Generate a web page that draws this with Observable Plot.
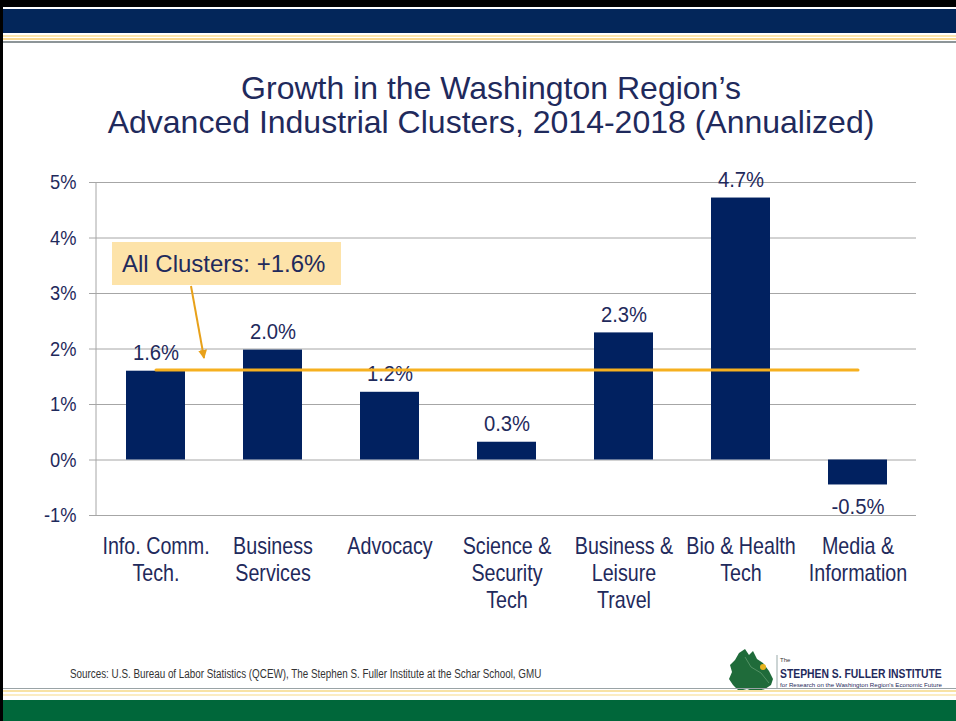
<!DOCTYPE html>
<html><head><meta charset="utf-8">
<script src="https://cdn.jsdelivr.net/npm/d3@7"></script>
<script src="https://cdn.jsdelivr.net/npm/@observablehq/plot@0.6"></script>
<style>
body{margin:0;background:#fff;}
#page{position:relative;width:956px;height:721px;overflow:hidden;background:#fff;font-family:"Liberation Sans",Arial,sans-serif;}
.abs{position:absolute;}
#title{left:26px;width:930px;top:71px;text-align:center;font-size:32px;line-height:34px;color:#1f2a5c;}
#callout{left:112px;top:242px;width:229px;height:43px;background:#fde3a9;color:#1f2a5c;font-size:24px;line-height:43px;padding-left:10px;box-sizing:border-box;white-space:nowrap;}
#src{left:70px;top:667px;font-size:12px;color:#333;white-space:nowrap;transform:scaleX(0.82);transform-origin:0 0;}
#chart{left:0;top:160px;}
</style></head>
<body>
<div id="page">
  <div class="abs" style="left:0;top:0;width:956px;height:7px;background:#000"></div>
  <div class="abs" style="left:0;top:0;width:3px;height:721px;background:#000;z-index:5"></div>
  <div class="abs" style="left:3px;top:9px;width:953px;height:24px;background:#03265a"></div>
  <div class="abs" style="left:3px;top:35px;width:953px;height:2px;background:#fbe6b0"></div>
  <div class="abs" style="left:3px;top:38px;width:953px;height:2px;background:#f7d890"></div>
  <div class="abs" style="left:3px;top:41px;width:953px;height:2px;background:#8d9598"></div>
  <div class="abs" id="title">Growth in the Washington Region’s<br>Advanced Industrial Clusters, 2014-2018 (Annualized)</div>
  <div class="abs" id="chart"></div>
  <div class="abs" id="callout">All Clusters: +1.6%</div>
  <svg class="abs" style="left:0;top:0" width="956" height="721" pointer-events="none">
    <defs><marker id="ah" viewBox="0 0 10 10" refX="9" refY="5" markerWidth="4.5" markerHeight="4.5" orient="auto"><path d="M0,0L10,5L0,10z" fill="#e8a11a"/></marker></defs>
    <line x1="191" y1="286" x2="204" y2="358" stroke="#e8a11a" stroke-width="2" marker-end="url(#ah)"/>
  </svg>
  <div class="abs" id="src">Sources: U.S. Bureau of Labor Statistics (QCEW), The Stephen S. Fuller Institute at the Schar School, GMU</div>
  <svg class="abs" id="logo" style="left:725px;top:645px" width="231" height="50">
    <path d="M14,8 L20,4 L24,10 L28,6 L32,14 L38,18 L44,26 L48,34 L46,40 L40,44 L30,47 L22,44 L14,46 L8,40 L4,34 L7,27 L5,20 L10,15 Z" fill="#1f6b3a"/>
    <path d="M20,12 L26,22 L36,28 L44,38" stroke="#5f9a6e" stroke-width="0.8" fill="none"/>
    <circle cx="38" cy="22" r="3" fill="#e6b31e"/>
    <line x1="52" y1="10" x2="52" y2="44" stroke="#9aa" stroke-width="1"/>
    <text x="55" y="17" font-size="6" fill="#333" font-family="Liberation Sans, sans-serif">The</text>
    <g transform="translate(55,33)"><text class="fit" x="0" y="0" font-size="12" font-weight="bold" fill="#1f2a5c" font-family="Liberation Sans, sans-serif">STEPHEN S. FULLER INSTITUTE</text></g>
    <g transform="translate(55,42)"><text class="fit" x="0" y="0" font-size="6" fill="#1f2a5c" font-family="Liberation Sans, sans-serif">for Research on the Washington Region's Economic Future</text></g>
  </svg>
  <div class="abs" style="left:3px;top:688px;width:953px;height:1px;background:#9aa3a6"></div>
  <div class="abs" style="left:3px;top:690px;width:953px;height:2px;background:#f8e2a4"></div>
  <div class="abs" style="left:3px;top:694px;width:953px;height:2px;background:#fbecc2"></div>
  <div class="abs" style="left:3px;top:700px;width:953px;height:21px;background:#00673a"></div>
</div>
<script>
const categories = ["Info. Comm.\nTech.", "Business\nServices", "Advocacy", "Science &\nSecurity\nTech", "Business &\nLeisure\nTravel", "Bio & Health\nTech", "Media &\nInformation"];
const growth = [1.6, 1.98, 1.22, 0.32, 2.29, 4.72, -0.45];
const growthLabels = ["1.6%", "2.0%", "1.2%", "0.3%", "2.3%", "4.7%", "-0.5%"];
const allClusters = 1.62;
const yTicks = [-1, 0, 1, 2, 3, 4, 5];

const navy = "#1f2a5c";
const barColor = "#012160";
const grid = "#a6a6a6";
const data = categories.map((c, i) => ({cat: c, val: growth[i], label: growthLabels[i]}));
const avgLine = [{cat: categories[0], val: allClusters}, {cat: categories[categories.length - 1], val: allClusters}];

const yAxisLine = (index, scales, values, dim) => {
  const l = d3.create("svg:line")
    .attr("x1", dim.marginLeft).attr("x2", dim.marginLeft)
    .attr("y1", dim.marginTop).attr("y2", dim.height - dim.marginBottom)
    .attr("stroke", grid).attr("stroke-width", 1);
  return l.node();
};

const chart = Plot.plot({
  width: 956,
  height: 460,
  marginLeft: 96,
  marginRight: 40,
  marginTop: 22,
  marginBottom: 105,
  style: {fontFamily: '"Liberation Sans",Arial,sans-serif', fontSize: "21px", color: navy, background: "transparent", overflow: "visible"},
  x: {domain: categories, paddingInner: 0.5, paddingOuter: 0.25, axis: null},
  y: {domain: [-1, 5], axis: null},
  marks: [
    Plot.ruleY(yTicks, {stroke: grid, strokeWidth: 1}),
    Plot.axisY({ticks: yTicks, tickSize: 7, tickPadding: 13, tickFormat: d => d + "%", label: null, stroke: grid, fill: navy, fontSize: 21}),
    yAxisLine,
    Plot.barY(data, {x: "cat", y: "val", fill: barColor}),
    Plot.text(data.filter(d => d.val >= 0), {x: "cat", y: "val", text: "label", lineAnchor: "bottom", dy: -11, fill: navy, fontSize: 22}),
    Plot.text(data.filter(d => d.val < 0), {x: "cat", y: "val", text: "label", lineAnchor: "top", dy: 13, fill: navy, fontSize: 22}),
    Plot.text(categories, {x: d => d, frameAnchor: "bottom", text: d => d, lineAnchor: "top", dy: 19, lineHeight: 1.125, fill: navy, fontSize: 24}),
    Plot.lineY(avgLine, {x: "cat", y: "val", stroke: "#f6b01f", strokeWidth: 3})
  ]
});
document.getElementById("chart").appendChild(chart);

// condense chart texts to mimic the narrow sans face of the original
const factorFor = el => {
  const fs = parseFloat(getComputedStyle(el).fontSize);
  return fs >= 24 ? 0.82 : fs >= 22 ? 0.92 : 0.87;
};
const squeeze = (el, k) => {
  const len = el.getComputedTextLength();
  if (len > 0) {
    el.setAttribute("textLength", (len * k).toFixed(2));
    el.setAttribute("lengthAdjust", "spacingAndGlyphs");
  }
};
chart.querySelectorAll("text").forEach(t => {
  const k = factorFor(t);
  const spans = t.querySelectorAll("tspan");
  if (spans.length) spans.forEach(s => squeeze(s, k)); else squeeze(t, k);
});
// fit logo lines to the logo width
document.querySelectorAll("#logo text.fit").forEach(t => {
  const len = t.getComputedTextLength();
  t.setAttribute("transform", `scale(${(162 / len).toFixed(4)},1)`);
});
</script>
</body></html>
